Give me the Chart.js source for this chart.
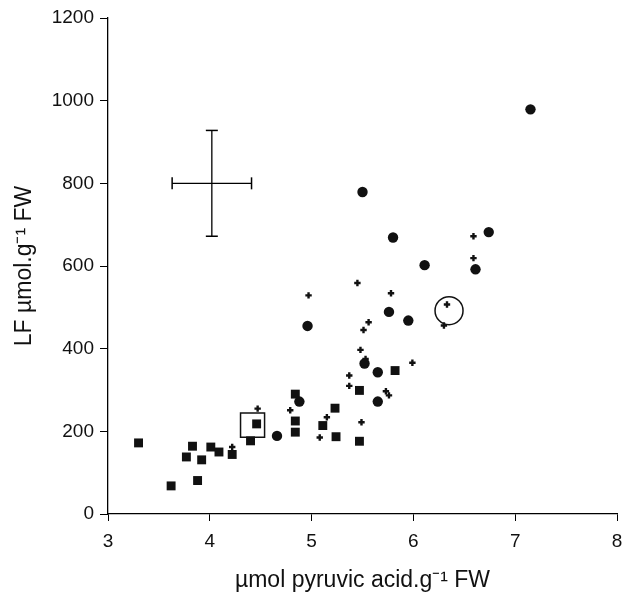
<!DOCTYPE html>
<html>
<head>
<meta charset="utf-8">
<script src="https://cdn.jsdelivr.net/npm/chart.js@4/dist/chart.umd.min.js"></script>
<style>
html,body{margin:0;padding:0;background:#fff;}
#wrap{width:629px;height:594px;}
</style>
</head>
<body>
<div id="wrap"><canvas id="c" width="629" height="594"></canvas></div>
<script>
// ---- data ----
const xTicks = [3, 4, 5, 6, 7, 8];
const yTicks = [0, 200, 400, 600, 800, 1000, 1200];

const squareX = [3.30, 3.62, 3.77, 3.83, 3.88, 3.92, 4.01, 4.09, 4.22, 4.40, 4.46, 4.84, 4.84, 4.84, 5.11, 5.23, 5.24, 5.47, 5.47, 5.82];
const squareY = [172, 68, 138, 164, 81, 131, 162, 150, 144, 177, 218, 290, 225, 198, 214, 256, 187, 299, 176, 347];

const circleX = [4.66, 4.88, 4.96, 5.50, 5.52, 5.65, 5.65, 5.76, 5.80, 5.95, 6.11, 6.61, 6.74, 7.15];
const circleY = [189, 272, 455, 779, 364, 343, 272, 489, 669, 468, 602, 592, 682, 979];

const crossX = [4.22, 4.47, 4.79, 4.97, 5.08, 5.15, 5.37, 5.37, 5.45, 5.48, 5.49, 5.51, 5.53, 5.56, 5.73, 5.76, 5.78, 5.99, 6.30, 6.33, 6.59, 6.59];
const crossY = [162, 255, 251, 529, 185, 234, 335, 310, 559, 397, 222, 445, 375, 464, 297, 287, 534, 366, 456, 507, 672, 619];

// highlighted points (open square / open circle)
const openSquareX = [4.42];
const openSquareY = [215];
const openCircleX = [6.35];
const openCircleY = [492];

// representative error bar
const errCenterX = [4.02];
const errCenterY = [800];
const errHalfX = [0.39];
const errHalfY = [128];

const pts = (xs, ys) => xs.map((x, i) => ({x: x, y: ys[i]}));

const FONT = '"Liberation Sans", Arial, Helvetica, sans-serif';

const datasets = [
  {
    label: 'errX',
    data: [{x: errCenterX[0] - errHalfX[0], y: errCenterY[0]}, {x: errCenterX[0] + errHalfX[0], y: errCenterY[0]}],
    showLine: true, borderColor: '#000', borderWidth: 1.3,
    pointStyle: 'line', rotation: 90, pointRadius: 6, pointBorderWidth: 1.5,
    pointBorderColor: '#000', pointBackgroundColor: '#000'
  },
  {
    label: 'errY',
    data: [{x: errCenterX[0], y: errCenterY[0] - errHalfY[0]}, {x: errCenterX[0], y: errCenterY[0] + errHalfY[0]}],
    showLine: true, borderColor: '#000', borderWidth: 1.3,
    pointStyle: 'line', rotation: 0, pointRadius: 6, pointBorderWidth: 1.5,
    pointBorderColor: '#000', pointBackgroundColor: '#000'
  },
  {
    label: 'open square',
    data: pts(openSquareX, openSquareY),
    pointStyle: 'rect', pointRadius: 17, pointBorderWidth: 1.5,
    pointBorderColor: '#111', pointBackgroundColor: 'rgba(0,0,0,0)'
  },
  {
    label: 'open circle',
    data: pts(openCircleX, openCircleY),
    pointStyle: 'circle', pointRadius: 14, pointBorderWidth: 1.5,
    pointBorderColor: '#111', pointBackgroundColor: 'rgba(0,0,0,0)'
  },
  {
    label: 'squares',
    data: pts(squareX, squareY),
    pointStyle: 'rect', pointRadius: 6.3, pointBorderWidth: 0,
    pointBackgroundColor: '#111', pointBorderColor: '#111'
  },
  {
    label: 'circles',
    data: pts(circleX, circleY),
    pointStyle: 'circle', pointRadius: 5.2, pointBorderWidth: 0,
    pointBackgroundColor: '#111', pointBorderColor: '#111'
  },
  {
    label: 'crosses',
    data: pts(crossX, crossY),
    pointStyle: 'cross', pointRadius: 3.2, pointBorderWidth: 2.4,
    pointBackgroundColor: '#111', pointBorderColor: '#111'
  }
];

new Chart(document.getElementById('c'), {
  type: 'scatter',
  data: {datasets: datasets},
  options: {
    responsive: false,
    animation: false,
    events: [],
    layout: {autoPadding: false, padding: {top: 18, right: 12, left: 0, bottom: 0}},
    plugins: {legend: {display: false}, tooltip: {enabled: false}},
    scales: {
      x: {
        type: 'linear', min: 3, max: 8,
        afterBuildTicks: (s) => { s.ticks = xTicks.map(v => ({value: v})); },
        afterFit: (s) => { s.height = 80; s.paddingLeft = 0; s.paddingRight = 0; },
        grid: {display: true, drawOnChartArea: false, drawTicks: true, tickLength: 7, color: '#000', lineWidth: 1},
        border: {display: true, color: '#000', width: 1.3},
        ticks: {color: '#111', font: {family: FONT, size: 19}, padding: 9, maxRotation: 0, callback: (v) => String(v)},
        title: {display: true, text: 'µmol pyruvic acid.g⁻¹ FW', color: '#111', font: {family: FONT, size: 23}, padding: {top: 0, bottom: 0}}
      },
      y: {
        type: 'linear', min: 0, max: 1200,
        afterBuildTicks: (s) => { s.ticks = yTicks.map(v => ({value: v})); },
        afterFit: (s) => { s.width = 108; s.paddingTop = 0; s.paddingBottom = 0; },
        grid: {display: true, drawOnChartArea: false, drawTicks: true, tickLength: 8, color: '#000', lineWidth: 1},
        border: {display: true, color: '#000', width: 1.3},
        ticks: {color: '#111', font: {family: FONT, size: 19}, padding: 6, callback: (v) => String(v)},
        title: {display: true, text: 'LF µmol.g⁻¹ FW', color: '#111', font: {family: FONT, size: 23}, padding: {top: 11, bottom: 0}}
      }
    }
  }
});
</script>
</body>
</html>
